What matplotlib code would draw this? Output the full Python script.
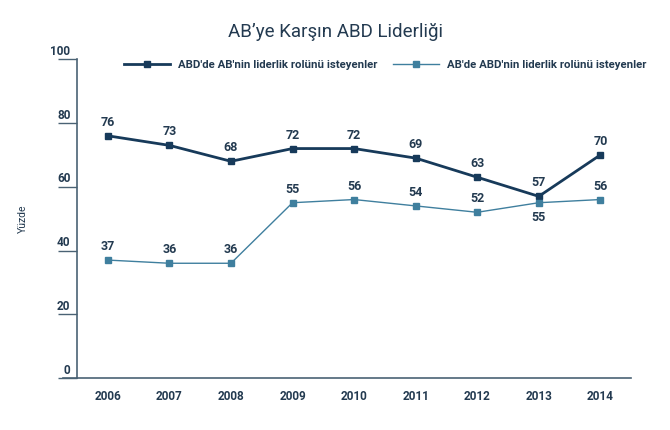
import matplotlib
matplotlib.use("Agg")
import matplotlib.pyplot as plt
from matplotlib.transforms import blended_transform_factory, offset_copy
from matplotlib.lines import Line2D

plt.rcParams['font.family'] = ['Roboto', 'DejaVu Sans']

years = [2006, 2007, 2008, 2009, 2010, 2011, 2012, 2013, 2014]
us_wants_eu = [76, 73, 68, 72, 72, 69, 63, 57, 70]
eu_wants_us = [37, 36, 36, 55, 56, 54, 52, 55, 56]
series_names = ["ABD'de AB'nin liderlik rolünü isteyenler",
                "AB'de ABD'nin liderlik rolünü isteyenler"]
yticks = [0, 20, 40, 60, 80, 100]
title = "AB’ye Karşın ABD Liderliği"
ylabel = "Yüzde"

c1 = "#173a5a"
c2 = "#3f7f9e"
txt = "#233a50"
axis_c = "#4a6274"

fig = plt.figure(figsize=(6.7, 4.3), dpi=100)
ax = fig.add_axes([0.115, 0.121, 0.827, 0.741])

ax.plot(years, us_wants_eu, color=c1, lw=2.0, marker='s', ms=5,
        label=series_names[0], zorder=3)
ax.plot(years, eu_wants_us, color=c2, lw=1.0, marker='s', ms=5,
        label=series_names[1], zorder=3)

for x, v in zip(years, us_wants_eu):
    ax.annotate(str(v), (x, v), xytext=(0, 5), textcoords='offset points',
                ha='center', va='bottom', fontsize=9, fontweight='bold', color=txt)
for x, v, w in zip(years, eu_wants_us, us_wants_eu):
    below = abs(v - w) < 5
    ax.annotate(str(v), (x, v), xytext=(0, -6 if below else 5), textcoords='offset points',
                ha='center', va='top' if below else 'bottom',
                fontsize=9, fontweight='bold', color=txt)

ax.set_xlim(2005.5, 2014.5)
ax.set_ylim(0, 100)
ax.set_xticks(years)
ax.set_xticklabels([str(y) for y in years], fontsize=8.5, fontweight='bold', color=txt)
ax.tick_params(axis='x', length=0, pad=9)
ax.set_yticks(yticks)
ax.set_yticklabels([])
ax.tick_params(axis='y', length=14, width=1, color=axis_c, direction='out')

tr = blended_transform_factory(ax.transAxes, ax.transData)
for t in yticks:
    ax.text(-0.012, t, str(t), transform=offset_copy(tr, fig=fig, x=0, y=1, units='points'),
            ha='right', va='bottom', fontsize=8.5, fontweight='bold', color=txt)

for s in ['top', 'right']:
    ax.spines[s].set_visible(False)
ax.spines['left'].set_color(axis_c)
ax.spines['bottom'].set_color(axis_c)
ax.spines['left'].set_linewidth(1.2)
ax.spines['bottom'].set_linewidth(1.2)
ax.add_line(Line2D([-0.025, 0], [0, 0], transform=ax.transAxes, color=axis_c, lw=1.2, clip_on=False))

ax.set_ylabel(ylabel, fontsize=7.5, color=txt)
ax.yaxis.set_label_coords(-0.088, 0.5)

leg = ax.legend(loc='upper center', bbox_to_anchor=(0.556, 1.03), ncol=2, frameon=False,
                fontsize=8.2, handlelength=4.0, columnspacing=1.4, handletextpad=0.7,
                labelcolor=txt, markerscale=0.9)
for t in leg.get_texts():
    t.set_fontweight('bold')

fig.text(0.5, 0.925, title, ha='center', va='center', fontsize=13.5, color=txt)

fig.savefig("out.png", dpi=100, facecolor='white')
